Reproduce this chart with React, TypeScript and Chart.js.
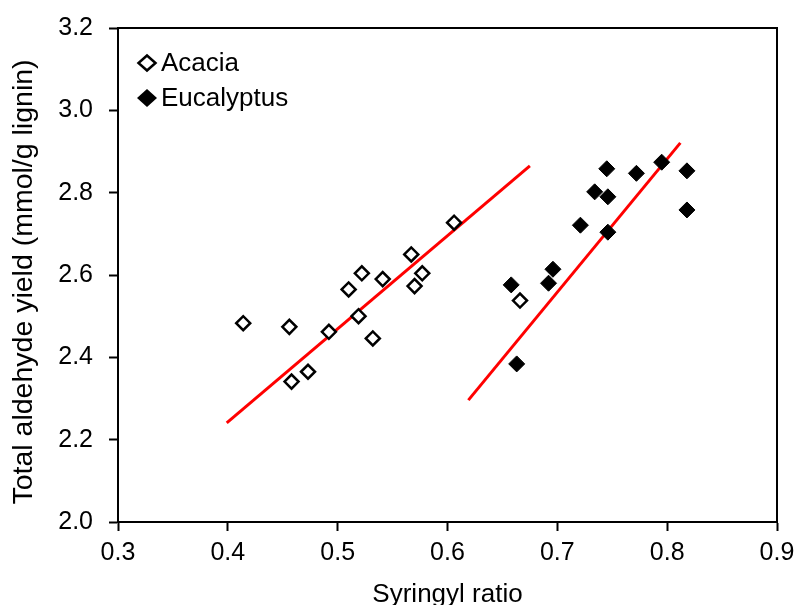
import React, { useEffect, useRef } from "react";
import { Chart, registerables } from "chart.js";

Chart.register(...registerables);

const acaciaX = [0.414, 0.456, 0.492, 0.510, 0.522, 0.541, 0.519, 0.532, 0.473, 0.458, 0.567, 0.577, 0.570, 0.606, 0.666];
const acaciaY = [2.483, 2.474, 2.462, 2.565, 2.604, 2.590, 2.500, 2.446, 2.365, 2.341, 2.650, 2.604, 2.573, 2.727, 2.538];

const eucalyptusX = [0.658, 0.663, 0.692, 0.696, 0.721, 0.734, 0.746, 0.745, 0.746, 0.772, 0.795, 0.818, 0.818];
const eucalyptusY = [2.576, 2.384, 2.580, 2.614, 2.721, 2.802, 2.790, 2.858, 2.704, 2.847, 2.874, 2.853, 2.758];

const acaciaFitX = [0.399, 0.675];
const acaciaFitY = [2.241, 2.865];
const eucalyptusFitX = [0.619, 0.812];
const eucalyptusFitY = [2.296, 2.921];

const seriesNames = ["Acacia", "Eucalyptus"];
const xTitle = "Syringyl ratio";
const yTitle = "Total aldehyde yield (mmol/g lignin)";

const toPts = (xs: number[], ys: number[]) => xs.map((x, i) => ({ x, y: ys[i] }));

const FONT = "'Liberation Sans', Arial, sans-serif";

export default function App() {
  const ref = useRef<HTMLCanvasElement | null>(null);

  useEffect(() => {
    document.body.style.margin = "0";
    const canvas = ref.current;
    if (!canvas) return;

    const framePlugin = {
      id: "frame",
      afterDraw(chart: any) {
        const { ctx, chartArea } = chart;
        ctx.save();
        ctx.strokeStyle = "#000";
        ctx.lineWidth = 2;
        ctx.strokeRect(chartArea.left, chartArea.top, chartArea.right - chartArea.left, chartArea.bottom - chartArea.top);
        // legend
        const lx = chartArea.left + 29;
        const rows = [chartArea.top + 35, chartArea.top + 70];
        ctx.font = `26px ${FONT}`;
        ctx.textBaseline = "middle";
        ctx.fillStyle = "#000";
        rows.forEach((ry, i) => {
          const rx = i === 0 ? 8.5 : 10;
          const rv = i === 0 ? 7.5 : 9;
          ctx.beginPath();
          ctx.moveTo(lx, ry - rv);
          ctx.lineTo(lx + rx, ry);
          ctx.lineTo(lx, ry + rv);
          ctx.lineTo(lx - rx, ry);
          ctx.closePath();
          if (i === 0) {
            ctx.lineWidth = 2.5;
            ctx.stroke();
          } else {
            ctx.fill();
          }
          ctx.fillText(seriesNames[i], lx + 14, ry + 1);
        });
        // axis titles
        ctx.textAlign = "center";
        ctx.textBaseline = "alphabetic";
        ctx.font = `26px ${FONT}`;
        ctx.fillText(xTitle, (chartArea.left + chartArea.right) / 2, 602);
        ctx.save();
        ctx.translate(32, 282);
        ctx.rotate(-Math.PI / 2);
        ctx.font = `28.5px ${FONT}`;
        ctx.fillText(yTitle, 0, 0);
        ctx.restore();
        ctx.restore();
      },
    };

    const chart = new Chart(canvas, {
      type: "scatter",
      data: {
        datasets: [
          {
            label: seriesNames[0],
            data: toPts(acaciaX, acaciaY),
            pointStyle: "rectRot",
            pointRadius: 7,
            borderColor: "#000",
            backgroundColor: "#fff",
            borderWidth: 2.5,
          },
          {
            label: seriesNames[1],
            data: toPts(eucalyptusX, eucalyptusY),
            pointStyle: "rectRot",
            pointRadius: 8,
            borderColor: "#000",
            backgroundColor: "#000",
            borderWidth: 1,
          },
          {
            label: "fitA",
            data: toPts(acaciaFitX, acaciaFitY),
            showLine: true,
            pointRadius: 0,
            borderColor: "#ff0000",
            borderWidth: 3,
          },
          {
            label: "fitE",
            data: toPts(eucalyptusFitX, eucalyptusFitY),
            showLine: true,
            pointRadius: 0,
            borderColor: "#ff0000",
            borderWidth: 3,
          },
        ],
      },
      options: {
        animation: false,
        responsive: false,
        maintainAspectRatio: false,
        layout: { padding: { left: 0, top: 28, right: 21, bottom: 0 } },
        plugins: { legend: { display: false }, tooltip: { enabled: false } },
        scales: {
          x: {
            type: "linear",
            min: 0.3,
            max: 0.9,
            afterFit: (s: any) => {
              s.height = 83;
              s.paddingLeft = 0;
              s.paddingRight = 0;
            },
            ticks: {
              stepSize: 0.1,
              color: "#000",
              font: { family: FONT, size: 25 },
              padding: 7,
              callback: (v: any) => Number(v).toFixed(1),
            },
            grid: { drawOnChartArea: false, tickLength: 9, tickColor: "#000", tickWidth: 2 },
            border: { display: true, color: "#000", width: 2 },
          },
          y: {
            type: "linear",
            min: 2.0,
            max: 3.2,
            afterFit: (s: any) => {
              s.width = 118;
              s.paddingTop = 0;
              s.paddingBottom = 0;
            },
            ticks: {
              stepSize: 0.2,
              color: "#000",
              font: { family: FONT, size: 25, lineHeight: 1.0 },
              padding: 16,
              callback: (v: any) => Number(v).toFixed(1),
            },
            grid: { drawOnChartArea: false, tickLength: 9, tickColor: "#000", tickWidth: 2 },
            border: { display: true, color: "#000", width: 2 },
          },
        },
      },
      plugins: [framePlugin],
    } as any);

    return () => chart.destroy();
  }, []);

  return (
    <div style={{ position: "absolute", left: 0, top: 0, width: 798, height: 605, background: "#fff" }}>
      <canvas ref={ref} width={798} height={605} style={{ width: 798, height: 605 }} />
    </div>
  );
}
